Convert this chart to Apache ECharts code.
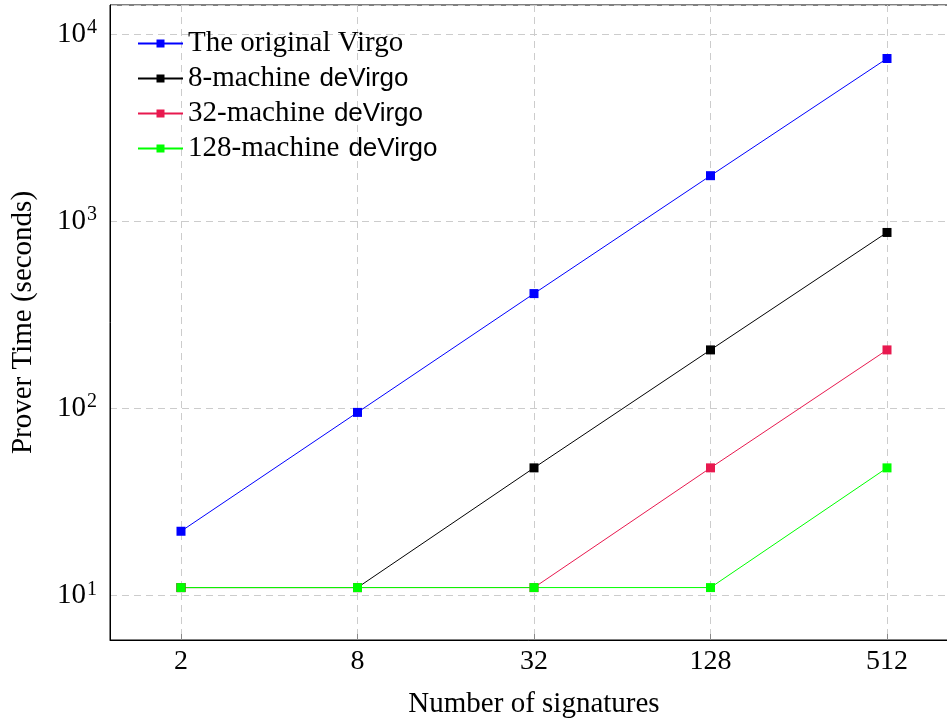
<!DOCTYPE html>
<html>
<head>
<meta charset="utf-8">
<script src="https://cdn.jsdelivr.net/npm/echarts@6/dist/echarts.min.js"></script>
<style>
html, body { margin: 0; padding: 0; background: #fff; }
#chart { width: 947px; height: 719px; }
</style>
</head>
<body>
<div id="chart"></div>
<script>
// 横轴：签名数量
var signatures = [2, 8, 32, 128, 512];
// 各方案的证明时间（秒）
var virgoTime = [22, 95, 410, 1750, 7400];
var deVirgo8Time = [11, 11, 48, 205, 870];
var deVirgo32Time = [11, 11, 11, 48, 205];
var deVirgo128Time = [11, 11, 11, 11, 48];
var seriesNames = ['The original Virgo', '8-machine deVirgo', '32-machine deVirgo', '128-machine deVirgo'];
var seriesColors = ['#0000ff', '#000000', '#e8194f', '#00ff00'];
var yTicks = [10, 100, 1000, 10000];

var serif = '"Liberation Serif", "Times New Roman", serif';
var sans = '"Liberation Sans", Arial, sans-serif';

function toPoints(values){
	var pts = [];
	for(var i = 0; i < signatures.length; i++){
		pts.push([Math.log2(signatures[i]), values[i]]);
	}
	return pts;
}

function makeSeries(idx, values){
	return {
		name: seriesNames[idx],
		type: 'line',
		data: toPoints(values),
		symbol: 'rect',
		symbolSize: 9,
		color: seriesColors[idx],
		lineStyle: { width: 1, color: seriesColors[idx] },
		itemStyle: { color: seriesColors[idx] },
		animation: false
	};
}

var chart = echarts.init(document.getElementById('chart'));
var option = {
	backgroundColor: '#fff',
	animation: false,
	grid: {
		left: 110, top: 5, right: -11, bottom: 79,
		containLabel: false,
		outerBoundsMode: 'none',
		show: true, borderColor: '#000', borderWidth: 1
	},
	legend: {
		orient: 'vertical',
		left: 137, top: 29,
		padding: 0,
		itemWidth: 45, itemHeight: 10,
		itemGap: 6,
		data: seriesNames,
		formatter: function(name){
			if(name.indexOf('deVirgo') > 0){
				return '{s|' + name.replace(' deVirgo', '') + '}{sp| }{h|deVirgo}';
			}
			return '{s|' + name + '}';
		},
		textStyle: {
			rich: {
				s: { fontFamily: serif, fontSize: 29, color: '#000' },
				sp: { fontFamily: serif, fontSize: 29, width: 9 },
				h: { fontFamily: sans, fontSize: 26, color: '#000' }
			}
		}
	},
	xAxis: {
		type: 'value',
		min: 0.1955, max: 9.8045,
		name: 'Number of signatures',
		nameLocation: 'middle',
		nameGap: 50,
		nameMoveOverlap: false,
		nameTextStyle: { fontFamily: serif, fontSize: 29, color: '#000' },
		axisLine: { show: true, lineStyle: { color: '#000' } },
		axisTick: { show: true, inside: true, length: 6, customValues: [1, 3, 5, 7, 9], lineStyle: { color: '#888' } },
		axisLabel: {
			customValues: [1, 3, 5, 7, 9],
			margin: 8,
			fontFamily: serif, fontSize: 28, color: '#000',
			formatter: function(v){ return String(Math.round(Math.pow(2, v))); }
		},
		splitLine: { show: true, lineStyle: { color: '#cccccc', type: [7, 5], width: 1 } }
	},
	yAxis: {
		type: 'log',
		logBase: 10,
		min: 5.77, max: 14300,
		name: 'Prover Time (seconds)',
		nameLocation: 'middle',
		nameGap: 72,
		nameMoveOverlap: false,
		nameTextStyle: { fontFamily: serif, fontSize: 29, color: '#000' },
		axisLine: { show: true, lineStyle: { color: '#000' } },
		axisTick: { show: false },
		axisLabel: {
			margin: 13,
			formatter: function(v){
				for(var i = 0; i < yTicks.length; i++){
					if(Math.abs(v - yTicks[i]) < 1e-6 * yTicks[i]){
						return '{b|10}{e|' + (i + 1) + '}';
					}
				}
				return '';
			},
			rich: {
				b: { fontFamily: serif, fontSize: 29, color: '#000' },
				e: { fontFamily: serif, fontSize: 20, color: '#000', verticalAlign: 'top', padding: [0, 0, 12, 1] }
			}
		},
		splitLine: { show: true, lineStyle: { color: '#cccccc', type: [7, 5], width: 1 } }
	},
	series: [
		makeSeries(0, virgoTime),
		makeSeries(1, deVirgo8Time),
		makeSeries(2, deVirgo32Time),
		makeSeries(3, deVirgo128Time)
	]
};
chart.setOption(option);
</script>
</body>
</html>
